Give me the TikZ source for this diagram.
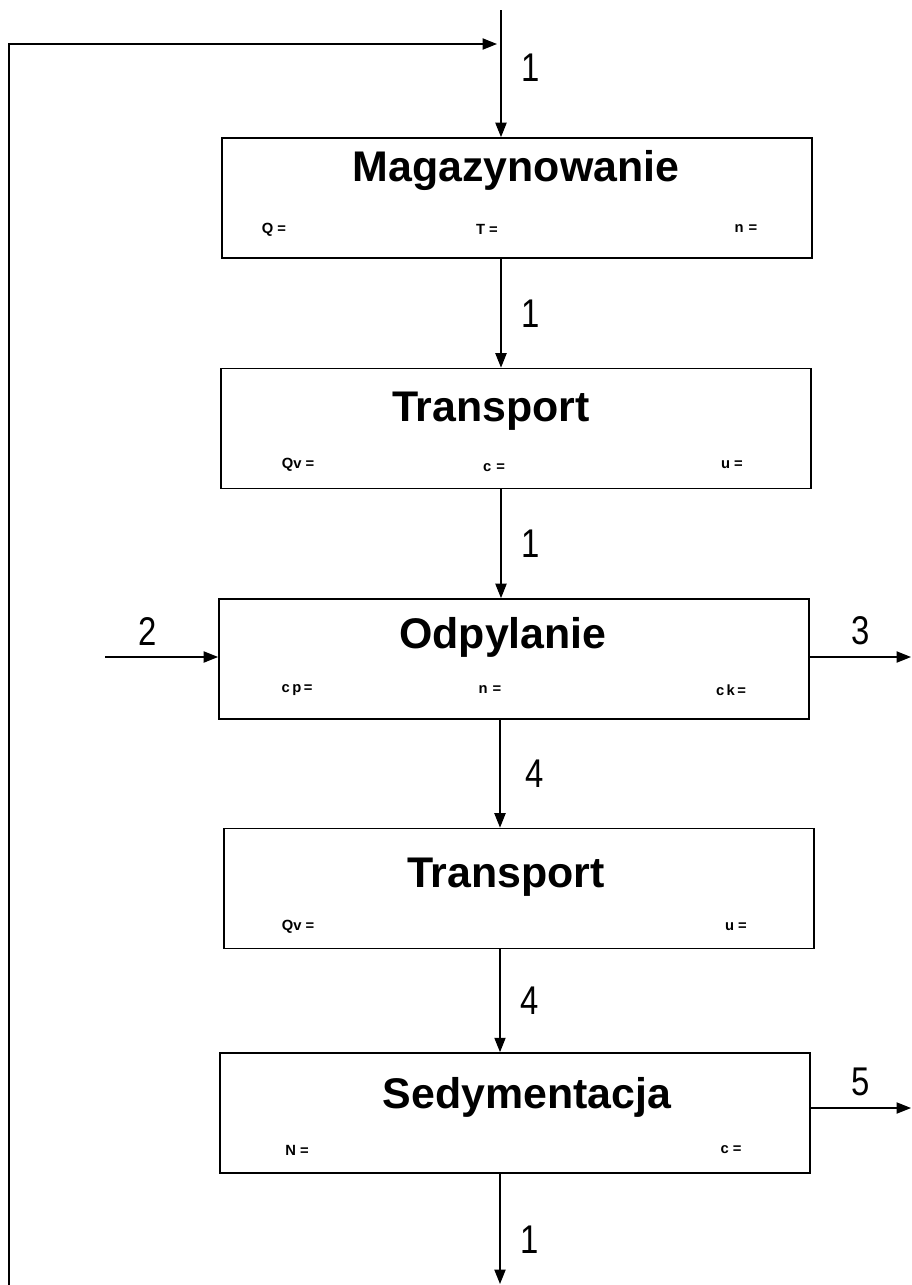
\documentclass[tikz,border=0pt]{standalone}
\usepackage{fontspec}
\setmainfont{Liberation Sans}
\newfontfamily\waski[FakeStretch=0.82]{Liberation Sans}
\usetikzlibrary{arrows.meta,positioning,calc}

\begin{document}
\begin{tikzpicture}[
  x=0.025cm, y=-0.025cm,
  blok/.style={draw, line width=1.2pt, minimum width=14.75cm, minimum height=3cm, inner sep=0pt},
  tytul/.style={font=\fontsize{30.5}{32}\selectfont\bfseries},
  pole/.style={font=\fontsize{10.5}{12}\selectfont\bfseries},
  nr/.style={font=\waski\fontsize{28.5}{30}\selectfont, inner sep=0pt},
  arr/.style={-{Triangle[length=3.6mm, width=2.8mm]}, line width=0.9pt}
]
\useasboundingbox (0,0) rectangle (912,1285);

% bloki procesu
\node[blok] (mag) at (517,198) {};
\node[blok] (tr1) at (516,428.5) {};
\node[blok] (odp) at (514,659) {};
\node[blok] (tr2) at (519,888.5) {};
\node[blok] (sed) at (515,1113) {};

% tytuly
\node[tytul] (magT) at (516,170) {Magazynowanie};
\node[tytul] (tr1T) at (491,411) {Transport};
\node[tytul] (odpT) at (503,637) {Odpylanie};
\node[tytul] (tr2T) at (506,877) {Transport};
\node[tytul] (sedT) at (527,1097) {Sedymentacja};

% parametry
\node[pole] (magQ) at (274,230) {Q =};
\node[pole] (magT2) at (487,229) {T =};
\node[pole] (magN) at (746,229) {n\,\,=};
\node[pole] (tr1Q) at (298,465) {Qv =};
\node[pole] (tr1C) at (494,468) {c\,\,=};
\node[pole] (tr1U) at (732,465) {u =};
\node[pole] (odpCp) at (297,690) {c\,p\,=};
\node[pole] (odpN) at (490,690) {n\,\,=};
\node[pole] (odpCk) at (731,690) {c\,k\,=};
\node[pole] (tr2Q) at (298,927) {Qv =};
\node[pole] (tr2U) at (736,927) {u =};
\node[pole] (sedN) at (297,1150) {N =};
\node[pole] (sedC) at (731,1150) {c =};

% punkty swobodne
\coordinate (wej) at (501,10);
\coordinate (zwrot) at (497,44);
\coordinate (dol) at (9,1290);
\coordinate (wyj) at (500,1284);
\coordinate (we2) at (105,657);
\coordinate (wy3) at (911,657);
\coordinate (wy5) at (911,1108);

% strumienie
\draw[arr] (wej) -- node[nr, right=14pt, yshift=4pt] {1} (wej |- mag.north);
\draw[arr] (dol) |- (zwrot);
\draw[arr] (mag.south -| wej) -- node[nr, right=14pt] {1} (tr1.north -| wej);
\draw[arr] (tr1.south -| wej) -- node[nr, right=14pt] {1} (odp.north -| wej);
\draw[arr] (odp.south -| wyj) -- node[nr, right=18pt] {4} (tr2.north -| wyj);
\draw[arr] (tr2.south -| wyj) -- node[nr, right=14pt] {4} (sed.north -| wyj);
\draw[arr] (sed.south -| wyj) -- node[nr, right=14pt, pos=0.6] {1} (wyj);
\draw[arr] (we2) -- node[nr, above=8pt, pos=0.38] {2} (odp.west |- we2);
\draw[arr] (odp.east |- wy3) -- node[nr, above=8pt] {3} (wy3);
\draw[arr] (sed.east |- wy5) -- node[nr, above=8pt] {5} (wy5);
\end{tikzpicture}
\end{document}
